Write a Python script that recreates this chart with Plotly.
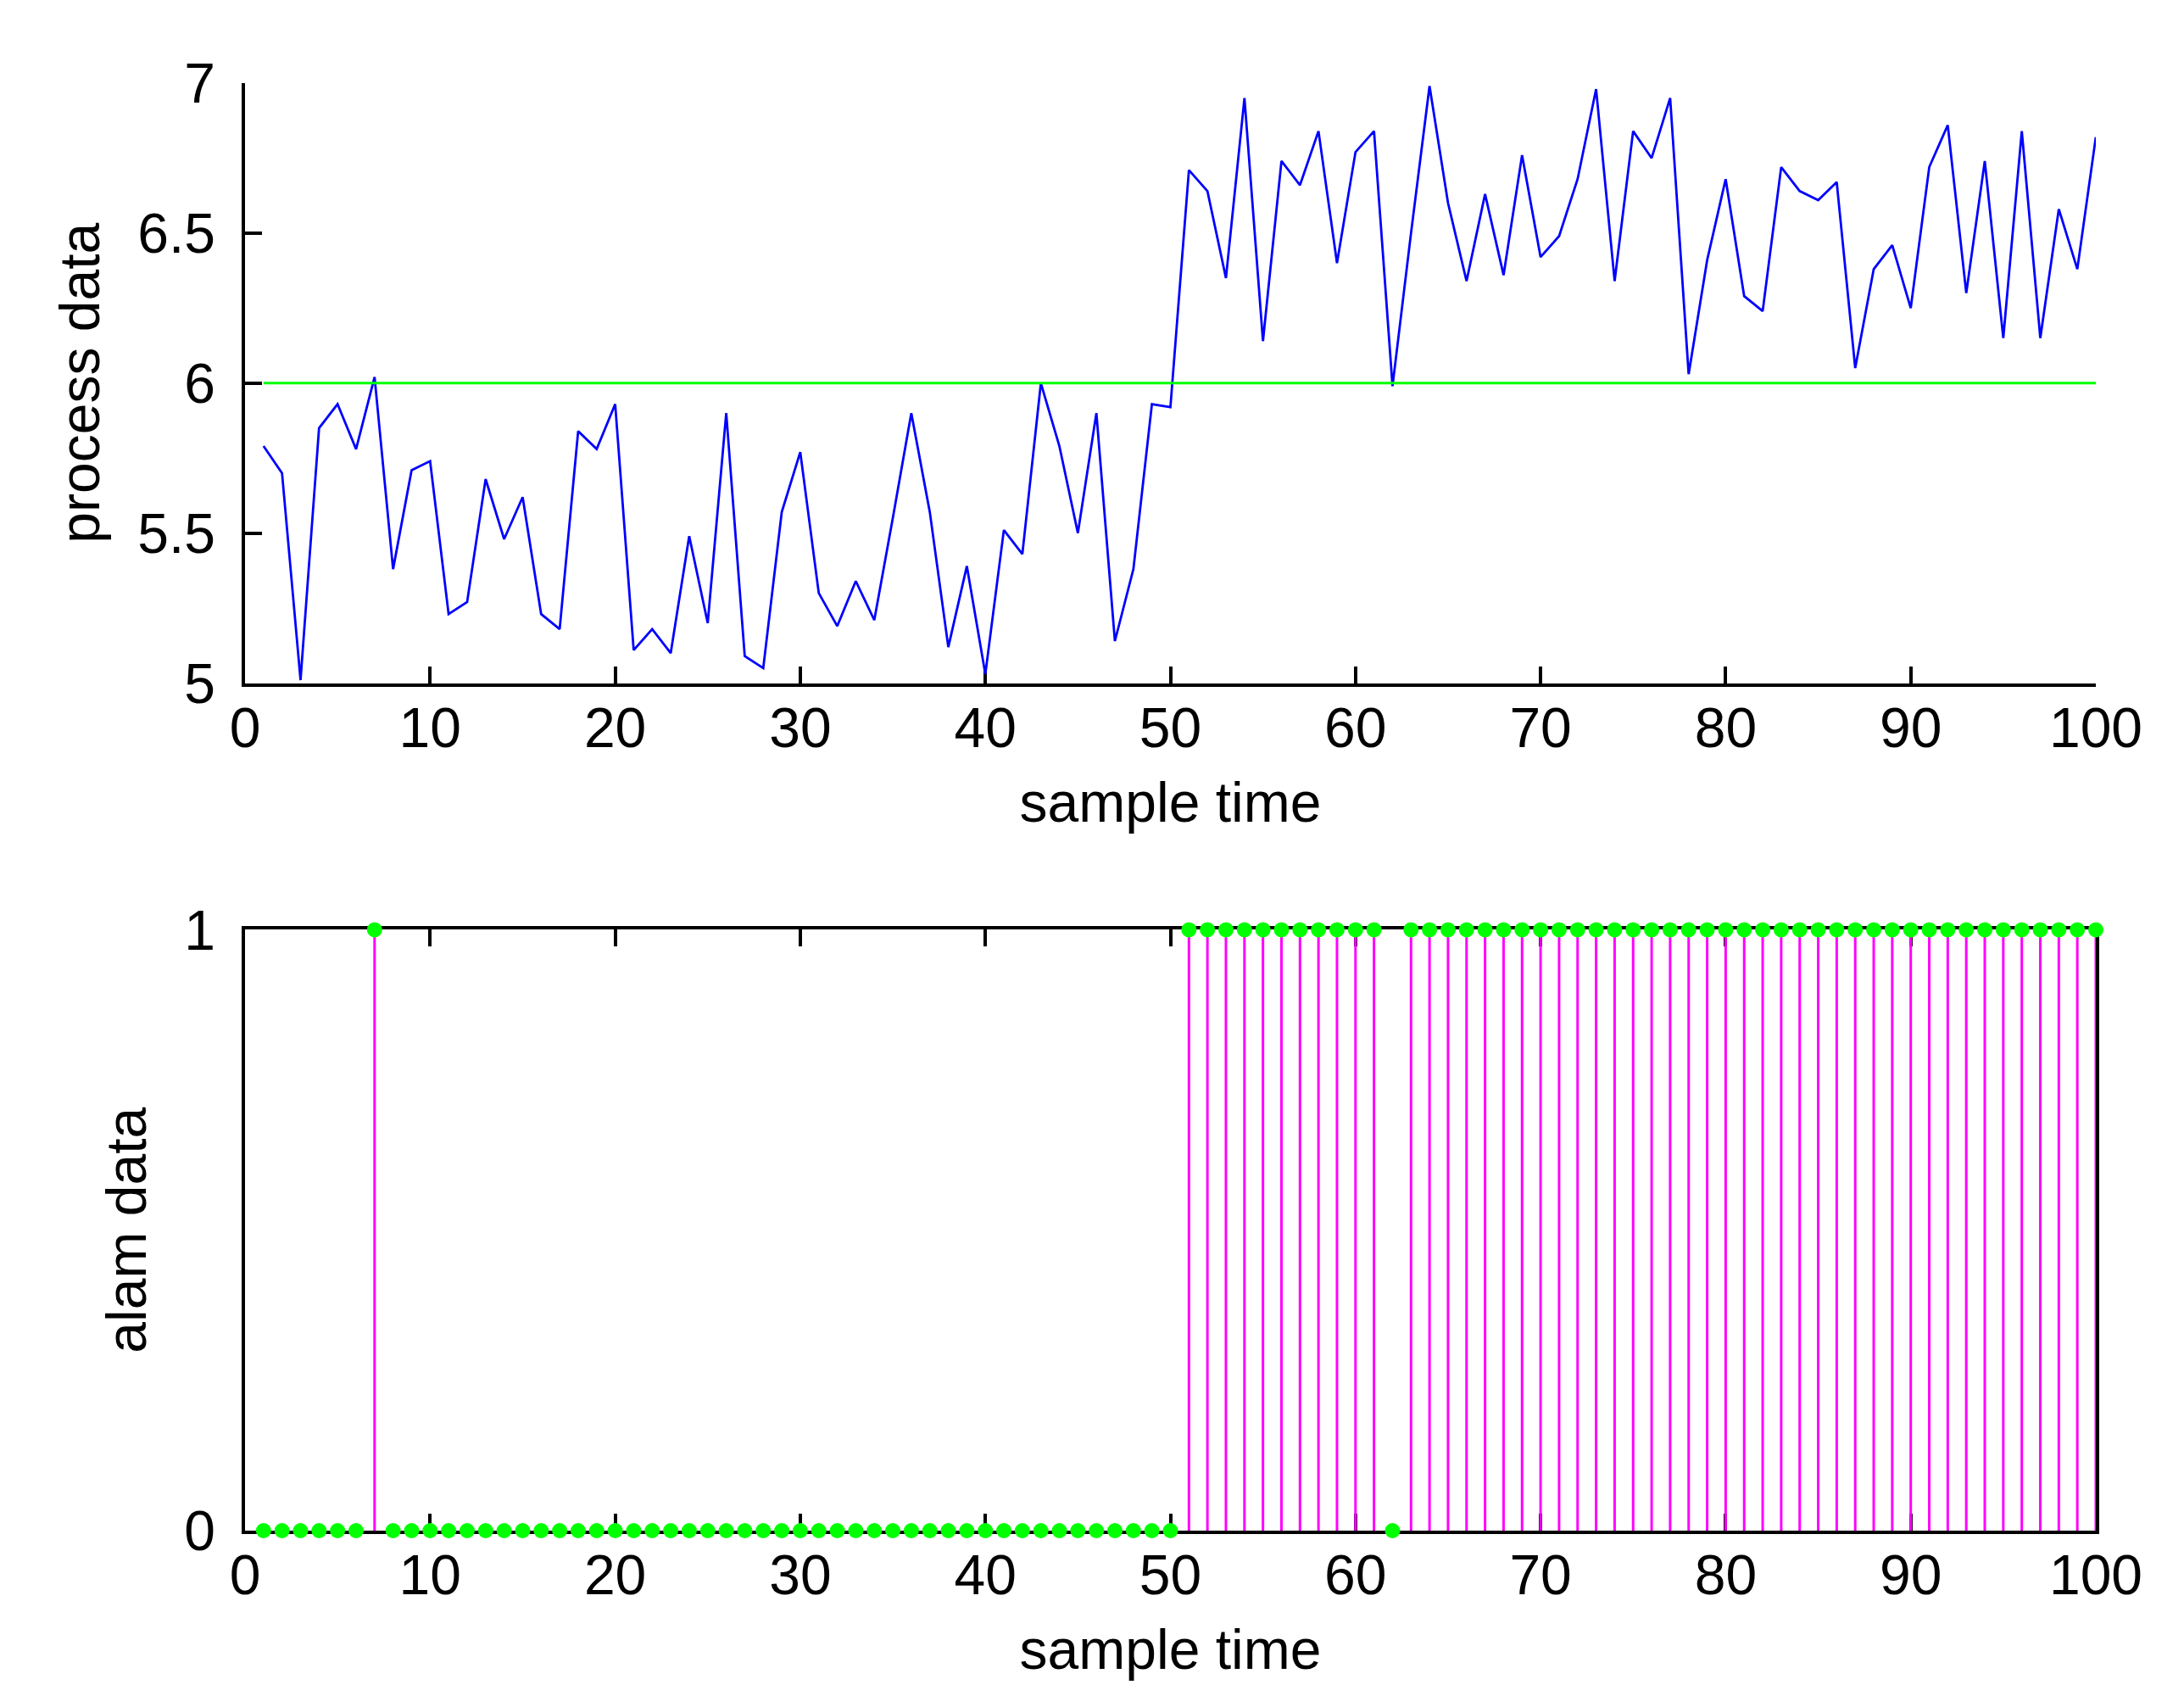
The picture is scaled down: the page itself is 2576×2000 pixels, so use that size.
import plotly.graph_objects as go
from plotly.subplots import make_subplots

# sample index and process data
sample_time = list(range(1, 101))
process_data = [
    5.79, 5.70, 5.01, 5.85, 5.93, 5.78, 6.02, 5.38, 5.71, 5.74,
    5.23, 5.27, 5.68, 5.48, 5.62, 5.23, 5.18, 5.84, 5.78, 5.93,
    5.11, 5.18, 5.10, 5.49, 5.20, 5.90, 5.09, 5.05, 5.57, 5.77,
    5.30, 5.19, 5.34, 5.21, 5.55, 5.90, 5.57, 5.12, 5.39, 5.03,
    5.51, 5.43, 6.00, 5.79, 5.50, 5.90, 5.14, 5.38, 5.93, 5.92,
    6.71, 6.64, 6.35, 6.95, 6.14, 6.74, 6.66, 6.84, 6.40, 6.77,
    6.84, 5.99, 6.50, 6.99, 6.60, 6.34, 6.63, 6.36, 6.76, 6.42,
    6.49, 6.68, 6.98, 6.34, 6.84, 6.75, 6.95, 6.03, 6.41, 6.68,
    6.29, 6.24, 6.72, 6.64, 6.61, 6.67, 6.05, 6.38, 6.46, 6.25,
    6.72, 6.86, 6.30, 6.74, 6.15, 6.84, 6.15, 6.58, 6.38, 6.82,
]
threshold = 6

# alarm data (lower panel)
alarm_data = [
    0, 0, 0, 0, 0, 0, 1, 0, 0, 0,
    0, 0, 0, 0, 0, 0, 0, 0, 0, 0,
    0, 0, 0, 0, 0, 0, 0, 0, 0, 0,
    0, 0, 0, 0, 0, 0, 0, 0, 0, 0,
    0, 0, 0, 0, 0, 0, 0, 0, 0, 0,
    1, 1, 1, 1, 1, 1, 1, 1, 1, 1,
    1, 0, 1, 1, 1, 1, 1, 1, 1, 1,
    1, 1, 1, 1, 1, 1, 1, 1, 1, 1,
    1, 1, 1, 1, 1, 1, 1, 1, 1, 1,
    1, 1, 1, 1, 1, 1, 1, 1, 1, 1,
]

FONT = "Liberation Sans, Arial, sans-serif"

fig = make_subplots(rows=2, cols=1)

fig.add_trace(go.Scatter(x=sample_time, y=process_data, mode="lines",
                         line=dict(color="#0000FF", width=2.8)), row=1, col=1)
fig.add_trace(go.Scatter(x=sample_time, y=[threshold] * len(sample_time), mode="lines",
                         line=dict(color="#00FF00", width=3)), row=1, col=1)

# stems
stem_x, stem_y = [], []
for t, a in zip(sample_time, alarm_data):
    if a != 0:
        stem_x += [t, t, None]
        stem_y += [0, a, None]
fig.add_trace(go.Scatter(x=stem_x, y=stem_y, mode="lines",
                         line=dict(color="#FF00FF", width=3)), row=2, col=1)
fig.add_trace(go.Scatter(x=sample_time, y=alarm_data, mode="markers", cliponaxis=False,
                         marker=dict(color="#00FF00", size=18, symbol="circle")), row=2, col=1)

axis_common = dict(showgrid=False, zeroline=False, showline=True, linecolor="black",
                   linewidth=3.5, ticks="inside", tickcolor="black", tickwidth=3.5, ticklen=20,
                   tickfont=dict(family=FONT, size=66, color="black"),
                   layer="below traces")

fig.update_xaxes(**axis_common, range=[0, 100], tickvals=list(range(0, 101, 10)),
                 ticklabelstandoff=-8,
                 title=dict(text="sample time", font=dict(family=FONT, size=66, color="black"),
                            standoff=30))
fig.update_xaxes(mirror="ticks", row=2, col=1)

fig.update_yaxes(**axis_common, ticklabelstandoff=18)
fig.update_yaxes(range=[5, 7], tickvals=[5, 5.5, 6, 6.5, 7], row=1, col=1,
                 title=dict(text="process data", font=dict(family=FONT, size=66, color="black"),
                            standoff=24))
fig.update_yaxes(range=[0, 1], tickvals=[0, 1], mirror=True, row=2, col=1,
                 title=dict(text="alam data", font=dict(family=FONT, size=66, color="black"),
                            standoff=24))

fig.update_layout(
    width=2576, height=2000,
    margin=dict(l=281, r=112, t=90, b=203),
    paper_bgcolor="white", plot_bgcolor="white",
    showlegend=False,
    xaxis=dict(domain=[0, 1], automargin=False),
    xaxis2=dict(domain=[0, 1], automargin=False),
    yaxis=dict(domain=[0.5855, 1], automargin=False),
    yaxis2=dict(domain=[0, 0.4151], automargin=False),
)

fig.write_html("out.html")
